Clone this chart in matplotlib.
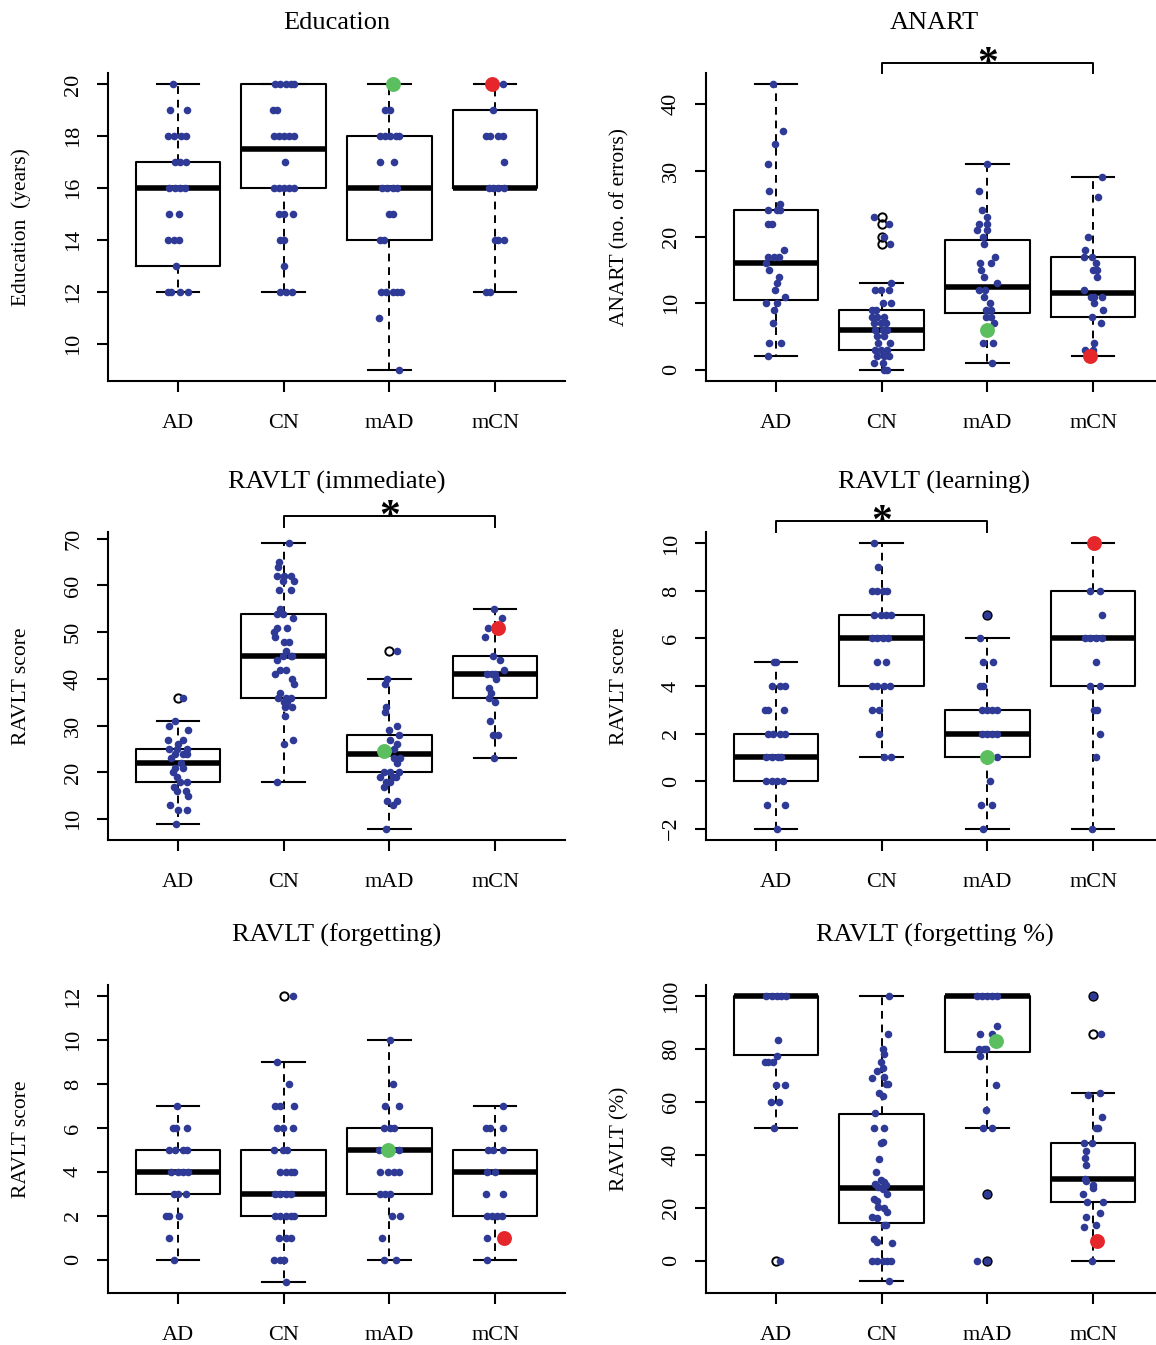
import matplotlib
matplotlib.use("Agg")
import matplotlib.pyplot as plt
import matplotlib.transforms as mtransforms

plt.rcParams['font.family'] = ['Liberation Serif', 'DejaVu Serif']

groups = ['AD', 'CN', 'mAD', 'mCN']

# ---------- Education ----------
edu_vals = [
    [20, 19, 19, 18, 18, 18, 18, 17, 17, 17, 16, 16, 16, 16, 15, 15, 14, 14, 14, 13, 12, 12, 12, 12],
    [20, 20, 20, 20, 20, 19, 19, 18, 18, 18, 18, 18, 17, 16, 16, 16, 16, 16, 15, 15, 15, 14, 14, 13, 12, 12, 12],
    [19, 19, 18, 18, 18, 18, 18, 17, 17, 16, 16, 16, 16, 15, 15, 14, 14, 12, 12, 12, 12, 12, 11, 9],
    [20, 19, 18, 18, 18, 18, 17, 16, 16, 16, 16, 14, 14, 14, 12, 12],
]
edu_jit = [
    [-0.05, -0.07, 0.09, -0.09, -0.04, 0.03, 0.08, -0.03, 0.02, 0.08, -0.08, -0.03, 0.02, 0.07, -0.08, 0.01, -0.09, -0.04, 0.01, -0.02, -0.09, -0.06, 0.02, 0.1],
    [-0.08, -0.03, 0.02, 0.07, 0.1, -0.1, -0.06, -0.09, -0.04, 0.0, 0.05, 0.1, 0.01, -0.09, -0.04, 0.0, 0.05, 0.1, -0.04, 0.0, 0.09, -0.03, 0.0, 0.0, -0.03, 0.02, 0.08],
    [-0.04, 0.01, -0.09, -0.04, 0.01, 0.06, 0.09, -0.09, 0.04, -0.07, -0.02, 0.03, 0.07, 0.0, 0.03, -0.09, -0.05, -0.08, -0.03, 0.03, 0.07, 0.11, -0.1, 0.09],
    [0.07, -0.02, -0.09, -0.05, 0.03, 0.07, 0.08, -0.06, -0.02, 0.03, 0.08, 0.0, 0.03, 0.08, -0.09, -0.05],
]
edu_q1 = [13, 16, 14, 16]
edu_med = [16, 17.5, 16, 16]
edu_q3 = [17, 20, 18, 19]
edu_lo = [12, 12, 9, 12]
edu_hi = [20, 20, 20, 20]
edu_out = [[], [], [], []]
edu_green = (20, 0.03)
edu_red = (20, -0.03)

# ---------- ANART ----------
anart_vals = [
    [43, 36, 34, 31, 27, 25, 24, 24, 24, 22, 22, 18, 17, 17, 17, 16, 15, 14, 13, 12, 11, 10, 10, 9, 7, 4, 4, 2],
    [23, 22, 20, 19, 13, 12, 12, 12, 10, 10, 9, 9, 8, 8, 8, 7, 7, 7, 6, 6, 6, 5, 5, 4, 4, 3, 3, 3, 2, 2, 2, 1, 1, 0, 0],
    [31, 27, 24, 23, 22, 22, 21, 21, 20, 19, 17, 16, 16, 15, 14, 13, 12, 12, 11, 10, 9, 9, 8, 8, 7, 4, 4, 1],
    [29, 26, 20, 18, 17, 17, 16, 15, 15, 14, 12, 11, 11, 11, 10, 9, 8, 7, 4, 3, 3],
]
anart_jit = [
    [-0.03, 0.07, -0.01, -0.07, -0.06, 0.04, -0.07, 0.01, 0.04, -0.07, -0.04, 0.08, -0.07, -0.02, 0.03, -0.09, -0.06, 0.03, 0.01, -0.01, 0.09, -0.09, 0.01, -0.02, -0.03, -0.06, 0.05, -0.07],
    [-0.07, 0.07, 0.02, 0.08, 0.09, -0.06, -0.01, 0.07, 0.01, 0.09, -0.09, -0.05, -0.09, -0.04, 0.02, -0.07, -0.01, 0.04, -0.06, 0.01, 0.05, -0.04, 0.02, -0.03, 0.08, -0.06, -0.01, 0.05, -0.04, 0.02, 0.07, -0.07, 0.01, 0.02, 0.05],
    [0.0, -0.08, -0.05, 0.0, -0.08, 0.0, -0.1, 0.0, -0.04, -0.03, 0.07, -0.07, 0.03, -0.06, -0.03, 0.09, -0.08, -0.02, -0.03, 0.02, -0.01, 0.03, -0.01, 0.03, 0.06, -0.04, 0.05, 0.04],
    [0.08, 0.05, -0.05, -0.08, -0.09, -0.01, 0.03, 0.0, 0.04, 0.04, -0.09, -0.02, 0.01, 0.08, 0.01, 0.09, -0.01, 0.07, 0.01, -0.08, 0.0],
]
anart_q1 = [10.5, 3, 8.5, 8]
anart_med = [16, 6, 12.5, 11.5]
anart_q3 = [24, 9, 19.5, 17]
anart_lo = [2, 0, 1, 2]
anart_hi = [43, 13, 31, 29]
anart_out = [[], [23, 22, 20, 19], [], []]
anart_green = (6, 0.0)
anart_red = (2, -0.03)

# ---------- RAVLT (immediate) ----------
imm_vals = [
    [36, 31, 30, 29, 27, 27, 26, 25, 25, 25, 24, 24, 24, 23, 22, 21, 21, 20, 19, 18, 18, 17, 16, 16, 15, 13, 12, 12, 9],
    [69, 65, 64, 62, 62, 62, 61, 61, 59, 59, 55, 54, 54, 53, 51, 51, 50, 49, 48, 48, 46, 45, 45, 45, 44, 42, 42, 41, 40, 39, 37, 36, 36, 36, 35, 35, 34, 34, 32, 27, 26, 18],
    [46, 40, 39, 34, 33, 30, 29, 28, 27, 26, 25, 23, 23, 22, 20, 20, 20, 19, 19, 19, 18, 18, 17, 14, 14, 13, 8],
    [55, 53, 51, 49, 45, 44, 42, 41, 41, 41, 40, 38, 37, 36, 35, 31, 28, 28, 23],
]
imm_jit = [
    [0.05, -0.03, -0.08, 0.1, -0.09, 0.05, 0.0, -0.08, -0.01, 0.09, -0.03, 0.05, 0.09, -0.06, 0.03, 0.05, -0.03, -0.05, -0.01, 0.02, 0.09, -0.04, -0.01, 0.08, 0.1, -0.07, 0.0, 0.09, -0.02],
    [0.05, -0.04, -0.05, -0.06, 0.0, 0.07, 0.1, -0.01, -0.04, 0.07, -0.03, -0.06, -0.01, 0.09, -0.06, 0.03, -0.09, -0.08, 0.0, 0.05, 0.02, 0.07, 0.08, -0.01, -0.06, -0.03, 0.02, -0.08, 0.08, 0.1, -0.03, 0.02, 0.07, -0.05, 0.0, 0.03, 0.08, 0.01, 0.01, 0.09, 0.0, -0.06],
    [0.07, -0.02, -0.04, -0.03, -0.04, 0.07, 0.0, 0.09, 0.01, 0.07, 0.04, 0.1, 0.04, 0.07, 0.01, 0.09, -0.05, 0.03, 0.06, -0.09, -0.03, 0.01, -0.05, -0.02, 0.07, 0.03, -0.03],
    [-0.01, 0.06, -0.07, -0.1, -0.02, 0.05, 0.08, 0.0, -0.08, -0.03, 0.01, -0.06, -0.04, -0.06, 0.0, -0.05, -0.02, 0.03, -0.01],
]
imm_q1 = [18, 36, 20, 36]
imm_med = [22, 45, 24, 41]
imm_q3 = [25, 54, 28, 45]
imm_lo = [9, 18, 8, 23]
imm_hi = [31, 69, 40, 55]
imm_out = [[36], [], [46], []]
imm_green = (24.6, -0.05)
imm_red = (51, 0.03)

# ---------- RAVLT (learning) ----------
learn_vals = [
    [5, 5, 4, 4, 4, 3, 3, 3, 2, 2, 2, 2, 1, 1, 1, 1, 0, 0, 0, 0, -1, -1, -2],
    [10, 9, 8, 8, 8, 8, 7, 7, 7, 7, 6, 6, 6, 6, 5, 5, 4, 4, 4, 4, 3, 3, 2, 1, 1],
    [7, 6, 5, 5, 4, 4, 3, 3, 3, 3, 2, 2, 2, 2, 1, 0, -1, -1, -2],
    [8, 8, 7, 6, 6, 6, 6, 5, 4, 4, 3, 3, 2, 1, -2],
]
learn_jit = [
    [-0.02, 0.0, -0.04, 0.04, 0.09, -0.1, -0.07, 0.08, -0.07, -0.03, 0.04, 0.09, -0.09, -0.04, 0.02, 0.05, -0.09, -0.04, 0.01, 0.07, -0.08, 0.09, 0.01],
    [-0.07, -0.03, -0.09, -0.04, 0.01, 0.05, -0.07, -0.01, 0.04, 0.09, -0.09, -0.04, 0.01, 0.06, -0.04, 0.04, -0.09, -0.04, 0.02, 0.08, -0.09, -0.02, -0.02, 0.02, 0.09],
    [0.0, -0.07, -0.04, 0.05, -0.07, -0.04, -0.05, 0.0, 0.04, 0.09, -0.05, 0.0, 0.04, 0.09, 0.09, 0.02, -0.06, 0.04, -0.04],
    [-0.03, 0.06, 0.08, -0.08, -0.03, 0.03, 0.08, 0.03, -0.03, 0.06, 0.01, 0.04, 0.06, 0.03, -0.01],
]
learn_q1 = [0, 4, 1, 4]
learn_med = [1, 6, 2, 6]
learn_q3 = [2, 7, 3, 8]
learn_lo = [-2, 1, -2, -2]
learn_hi = [5, 10, 6, 10]
learn_out = [[], [], [7], []]
learn_green = (1, 0.0)
learn_red = (10, 0.01)

# ---------- RAVLT (forgetting) ----------
forg_vals = [
    [7, 6, 6, 6, 5, 5, 5, 5, 4, 4, 4, 4, 3, 3, 3, 2, 2, 2, 1, 0],
    [12, 9, 8, 7, 7, 7, 6, 6, 6, 5, 5, 5, 4, 4, 4, 4, 3, 3, 3, 3, 2, 2, 2, 2, 2, 1, 1, 1, 0, 0, 0, -1],
    [10, 8, 7, 7, 6, 6, 6, 5, 5, 4, 4, 4, 4, 3, 3, 3, 2, 2, 1, 0, 0],
    [7, 6, 6, 6, 5, 5, 5, 4, 4, 3, 3, 2, 2, 2, 2, 1, 0],
]
forg_jit = [
    [-0.01, -0.05, -0.02, 0.09, -0.08, -0.03, 0.05, 0.09, -0.06, 0.0, 0.05, 0.1, -0.04, 0.0, 0.08, -0.11, -0.08, 0.01, -0.08, -0.04],
    [0.09, -0.06, 0.05, -0.08, -0.03, 0.1, -0.06, -0.01, 0.09, -0.09, -0.01, 0.03, -0.03, 0.02, 0.07, 0.1, -0.08, -0.03, 0.02, 0.07, -0.08, -0.03, 0.02, 0.07, 0.1, -0.04, 0.02, 0.07, -0.09, -0.03, 0.0, 0.02],
    [0.01, 0.03, -0.04, 0.09, -0.05, 0.01, 0.04, -0.1, 0.09, -0.09, -0.01, 0.04, 0.09, -0.09, -0.04, 0.01, 0.02, 0.1, -0.07, -0.05, 0.06],
    [0.07, -0.09, -0.05, 0.07, -0.07, -0.02, 0.07, -0.08, 0.0, -0.09, 0.07, -0.08, -0.03, 0.02, 0.06, -0.08, -0.08],
]
forg_q1 = [3, 2, 3, 2]
forg_med = [4, 3, 5, 4]
forg_q3 = [5, 5, 6, 5]
forg_lo = [0, -1, 0, 0]
forg_hi = [7, 9, 10, 7]
forg_out = [[], [12], [], []]
forg_green = (5, -0.01)
forg_red = (1, 0.08)

# ---------- RAVLT (forgetting %) ----------
pct_vals = [
    [100, 100, 100, 100, 100, 83.4, 77.6, 75, 75, 75, 66.6, 66.6, 60, 60, 50, 0],
    [100, 85.7, 80.2, 78, 75, 73, 71.7, 69.2, 69.6, 66.7, 66.7, 63.6, 62.3, 55.7, 50, 50, 45, 44.5, 38.4, 33.4,
     30.3, 29.6, 29, 28.4, 27.8, 27.1, 25, 23.4, 22.7, 20.1, 19.8, 18.3, 16.5, 16.1, 13.6, 13.3, 8, 7, 6.7,
     0, 0, 0, 0, 0, -7.8],
    [100, 100, 100, 100, 100, 88.7, 85.7, 85.7, 80, 80, 80, 77.6, 66.6, 57, 50, 50, 25, 0, 0],
    [100, 85.7, 62.6, 63.6, 54.5, 50, 50, 44.5, 44.5, 41.6, 38.7, 36.2, 30.7, 30, 28.4, 27.4, 25, 22.1, 22.1,
     18.1, 16.5, 12.7, 13.3, 0],
]
pct_jit = [
    [-0.09, -0.04, 0.01, 0.05, 0.1, 0.02, 0.01, -0.03, -0.07, -0.1, 0.0, 0.09, -0.05, 0.03, -0.02, 0.04],
    [0.07, 0.06, 0.01, 0.02, -0.01, 0.01, -0.04, -0.09, 0.02, 0.04, 0.06, -0.02, 0.01, -0.06, -0.07, 0.02, 0.01, -0.01, -0.02, -0.05,
     -0.01, 0.02, -0.06, 0.04, -0.03, 0.01, 0.05, -0.07, -0.04, -0.03, 0.02, 0.05, -0.09, -0.04, 0.04, 0.02, -0.07, -0.04, 0.1,
     -0.09, -0.04, 0.01, 0.05, 0.09, 0.07],
    [-0.1, -0.05, 0.0, 0.04, 0.09, 0.09, -0.07, 0.04, -0.08, -0.03, -0.01, -0.07, 0.08, -0.01, -0.04, 0.04, 0.0, -0.1, 0.0],
    [0.0, 0.07, -0.05, 0.06, 0.08, 0.03, 0.05, -0.09, -0.01, -0.07, -0.08, -0.07, -0.08, -0.07, 0.0, 0.0, -0.1, -0.06, 0.09,
     0.06, -0.07, -0.09, 0.03, -0.01],
]
pct_q1 = [77.8, 14.2, 78.9, 22.1]
pct_med = [100, 27.4, 100, 30.7]
pct_q3 = [100, 55.6, 100, 44.5]
pct_lo = [50, -7.8, 50, 0]
pct_hi = [100, 100, 100, 63.6]
pct_out = [[0], [], [25, 0], [100, 85.7]]
pct_green = (83, 0.08)
pct_red = (7.3, 0.04)

BLUE = '#2e3a96'
GREEN = '#5cbf5f'
RED = '#e5262b'

W, H = 1156, 1345
fig = plt.figure(figsize=(W / 100, H / 100), dpi=100)


def add_panel(left_px, top_px, title, ylabel, vals, jit, q1, med, q3, lo, hi, out,
              green, red, yticks, ylim, bracket=None):
    ax = fig.add_axes([left_px / W, 1 - (top_px + 308) / H, 457 / W, 308 / H])
    stats = []
    for i in range(4):
        stats.append(dict(med=med[i], q1=q1[i], q3=q3[i], whislo=lo[i], whishi=hi[i], fliers=out[i]))
    ax.bxp(stats, positions=[1, 2, 3, 4], widths=0.8, capwidths=0.4, showfliers=True,
           boxprops=dict(color='black', lw=1.5),
           medianprops=dict(color='black', lw=4.0, solid_capstyle='butt'),
           whiskerprops=dict(color='black', lw=1.4, linestyle=(0, (4, 3))),
           capprops=dict(color='black', lw=1.5),
           flierprops=dict(marker='o', mfc='none', mec='black', ms=6, mew=1.4))
    for i in range(4):
        xs = [i + 1 + j for j in jit[i]]
        ax.scatter(xs, vals[i], s=30, color=BLUE, zorder=4, linewidths=0)
    ax.scatter([3 + green[1]], [green[0]], s=115, color=GREEN, zorder=5, linewidths=0)
    ax.scatter([4 + red[1]], [red[0]], s=115, color=RED, zorder=5, linewidths=0)

    ax.set_xlim(0.34, 4.66)
    ax.set_ylim(*ylim)
    ax.set_xticks([1, 2, 3, 4])
    ax.set_xticklabels(groups)
    ax.set_yticks(yticks)
    ax.set_yticklabels([str(t).replace('-', '\u2212') for t in yticks], rotation=90, va='center')
    for s in ['top', 'right']:
        ax.spines[s].set_visible(False)
    for s in ['left', 'bottom']:
        ax.spines[s].set_linewidth(1.5)
    ax.tick_params(axis='both', length=8, width=1.5, labelsize=16)
    ax.tick_params(axis='x', pad=16)
    ax.tick_params(axis='y', pad=10)
    ax.set_ylabel(ylabel, fontsize=15.5)
    ax.yaxis.set_label_coords(-77 / 457, 0.5)
    ax.text(0.5, 1 + 50 / 308, title, transform=ax.transAxes, ha='center', va='center', fontsize=19)

    if bracket is not None:
        x0, x1, yb, yd = bracket
        tr = mtransforms.blended_transform_factory(ax.transData, ax.transAxes)
        ax.plot([x0, x0, x1, x1], [yd, yb, yb, yd], color='black', lw=1.4, transform=tr, clip_on=False)
        ax.text((x0 + x1) / 2, yb - 0.005, '*', transform=tr, ha='center', va='center',
                fontsize=30, fontweight='bold', clip_on=False)
    return ax


add_panel(108, 73, 'Education', 'Education  (years)', edu_vals, edu_jit, edu_q1, edu_med, edu_q3,
          edu_lo, edu_hi, edu_out, edu_green, edu_red, [10, 12, 14, 16, 18, 20], (8.56, 20.44))
add_panel(706, 73, 'ANART', 'ANART (no. of errors)', anart_vals, anart_jit, anart_q1, anart_med, anart_q3,
          anart_lo, anart_hi, anart_out, anart_green, anart_red, [0, 10, 20, 30, 40], (-1.72, 44.72),
          bracket=(2, 4, 1 + 10 / 308, 1.0))
add_panel(108, 532, 'RAVLT (immediate)', 'RAVLT score', imm_vals, imm_jit, imm_q1, imm_med, imm_q3,
          imm_lo, imm_hi, imm_out, imm_green, imm_red, [10, 20, 30, 40, 50, 60, 70], (5.56, 71.44),
          bracket=(2, 4, 1 + 16 / 308, 1 + 5 / 308))
add_panel(706, 532, 'RAVLT (learning)', 'RAVLT score', learn_vals, learn_jit, learn_q1, learn_med, learn_q3,
          learn_lo, learn_hi, learn_out, learn_green, learn_red, [-2, 0, 2, 4, 6, 8, 10], (-2.48, 10.48),
          bracket=(1, 3, 1 + 11 / 308, 1.0))
add_panel(108, 985, 'RAVLT (forgetting)', 'RAVLT score', forg_vals, forg_jit, forg_q1, forg_med, forg_q3,
          forg_lo, forg_hi, forg_out, forg_green, forg_red, [0, 2, 4, 6, 8, 10, 12], (-1.52, 12.52))
add_panel(706, 985, 'RAVLT (forgetting %)', 'RAVLT (%)', pct_vals, pct_jit, pct_q1, pct_med, pct_q3,
          pct_lo, pct_hi, pct_out, pct_green, pct_red, [0, 20, 40, 60, 80, 100], (-12.3, 104.3))

fig.savefig('out.png', dpi=100)
